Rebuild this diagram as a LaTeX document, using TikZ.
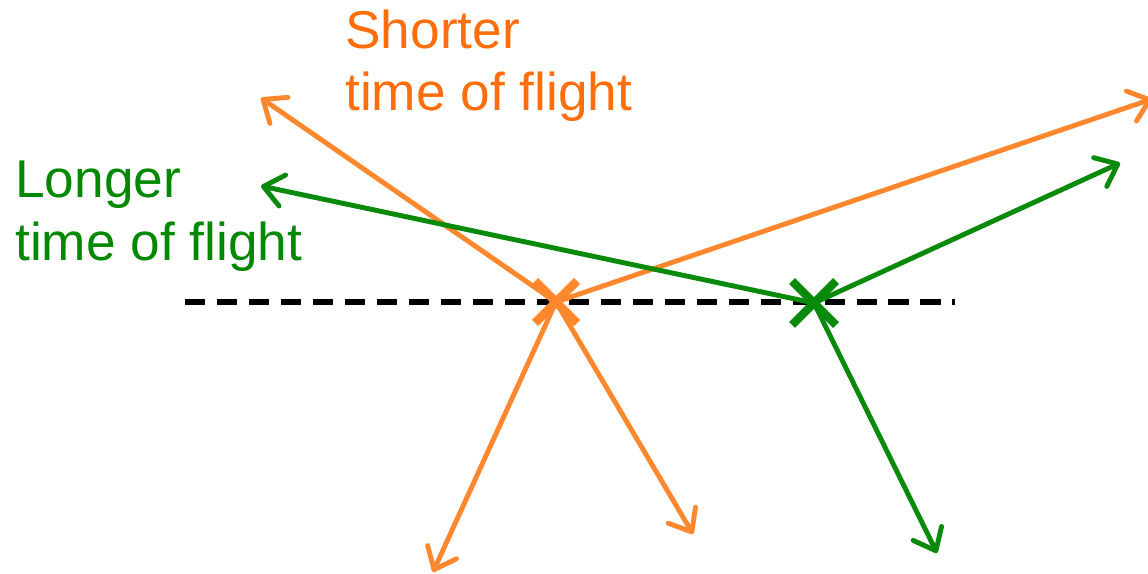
\documentclass[tikz,border=0pt]{standalone}
\usepackage{fontspec}
\setmainfont{Liberation Sans}
\usetikzlibrary{arrows.meta,calc}
\definecolor{flyorange}{RGB}{255,135,45}
\definecolor{txtorange}{RGB}{255,110,10}
\definecolor{flygreen}{RGB}{10,138,10}
\definecolor{txtgreen}{RGB}{0,136,0}
\tikzset{
  ray/.style={line width=2.8pt,-{Straight Barb[length=11pt,width=18pt,line cap=round,line join=round]}},
  hit/.style={line width=5pt,line cap=butt},
  lbl/.style={font=\fontsize{30.3}{35.8}\selectfont,align=left,anchor=base west,inner sep=0pt}
}
\begin{document}
\begin{tikzpicture}[x=0.02cm,y=-0.02cm,line cap=round,line join=round]
  \useasboundingbox (0,0) rectangle (1148,574);
  % detector plane
  \coordinate (L) at (185,302); \coordinate (R) at (955,302);
  \draw[line width=3.2pt,line cap=butt,dash pattern=on 11.6pt off 6.6pt] (L)--(R);
  % vertices
  \coordinate (O) at (556,302); \coordinate (G) at (814,303);
  % orange rays
  \coordinate (o1) at (261,98); \coordinate (o2) at (1152,99);
  \coordinate (o3) at (433,572); \coordinate (o4) at (693,534);
  \foreach \p in {o1,o2,o3,o4} \draw[ray,flyorange] (O)--(\p);
  % green rays
  \coordinate (g1) at (261,186); \coordinate (g2) at (1120,163);
  \coordinate (g3) at (937,553);
  \foreach \p in {g1,g2,g3} \draw[ray,flygreen] (G)--(\p);
  % crosses
  \draw[hit,flyorange] ($(O)+(-21,-21)$)--($(O)+(21,21)$) ($(O)+(-21,21)$)--($(O)+(21,-21)$);
  \draw[hit,flygreen,line width=4.8pt] ($(G)+(-22,-22)$)--($(G)+(22,22)$) ($(G)+(-22,22)$)--($(G)+(22,-22)$);
  % labels
  \node[lbl,txtorange] (short) at (345,111) {Shorter\\time of flight};
  \node[lbl,txtgreen] (long) at (15,260) {Longer\\time of flight};
\end{tikzpicture}
\end{document}
